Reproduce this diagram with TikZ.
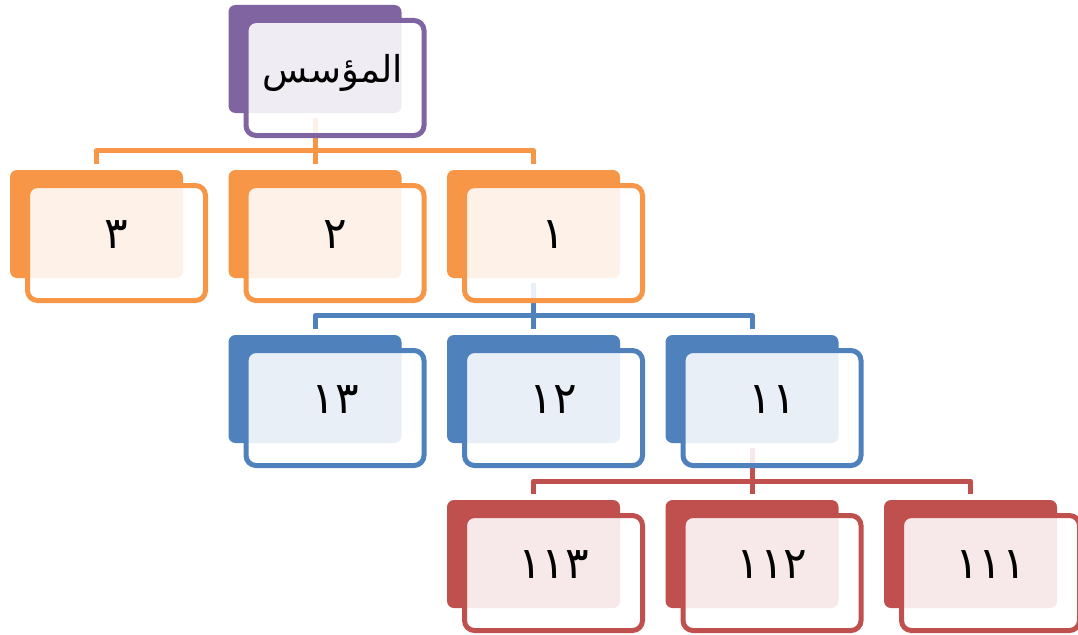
\documentclass[tikz,border=0pt]{standalone}
\usepackage{fontspec}
\newfontfamily\arabicfont[Script=Arabic]{DejaVu Sans}
\TeXXeTstate=1
\usetikzlibrary{calc}
\pgfdeclarelayer{background}
\pgfsetlayers{background,main}
\definecolor{cPurple}{HTML}{8064A2}
\definecolor{cOrange}{HTML}{F79646}
\definecolor{cBlue}{HTML}{4F81BD}
\definecolor{cRed}{HTML}{C0504D}
\tikzset{
  backbox/.style={rectangle, rounded corners=7pt, minimum width=173pt, minimum height=108pt,
    inner sep=0pt, outer sep=0pt, anchor=north west, fill=#1},
  frontbox/.style={rectangle, rounded corners=10pt, minimum width=178pt, minimum height=115pt,
    inner sep=0pt, outer sep=0pt, anchor=north west, draw=#1, line width=5pt,
    fill=white, fill opacity=0.88},
  boxtext/.style={inner sep=0pt, font=\arabicfont\fontsize{44pt}{48pt}\selectfont},
  roottext/.style={inner sep=0pt, font=\arabicfont\fontsize{37pt}{42pt}\selectfont},
  conn/.style={draw=#1, line width=5pt, line join=round},
}
\begin{document}
\begin{tikzpicture}[x=1pt,y=-1pt]
\useasboundingbox (0,0) rectangle (1078,634);

% root
\node[backbox=cPurple] (b0) at (228.5,5) {};
\node[frontbox=cPurple] (f0) at ($(b0.north west)+(17.5,15.5)$) {};
\node[roottext] (t0) at ($(f0.center)+(-2,-5)$) {\beginR المؤسس\endR};

% first level
\node[backbox=cOrange] (b3) at (10,170) {};
\node[frontbox=cOrange] (f3) at ($(b3.north west)+(17.5,15.5)$) {};
\node[boxtext] (t3) at ($(f3.center)+(0,-8)$) {٣};
\node[backbox=cOrange] (b2) at (228.5,170) {};
\node[frontbox=cOrange] (f2) at ($(b2.north west)+(17.5,15.5)$) {};
\node[boxtext] (t2) at ($(f2.center)+(0,-8)$) {٢};
\node[backbox=cOrange] (b1) at (447,170) {};
\node[frontbox=cOrange] (f1) at ($(b1.north west)+(17.5,15.5)$) {};
\node[boxtext] (t1) at ($(f1.center)+(0,-8)$) {١};

% second level
\node[backbox=cBlue] (b13) at (228.5,335) {};
\node[frontbox=cBlue] (f13) at ($(b13.north west)+(17.5,15.5)$) {};
\node[boxtext] (t13) at ($(f13.center)+(0,-8)$) {١٣};
\node[backbox=cBlue] (b12) at (447,335) {};
\node[frontbox=cBlue] (f12) at ($(b12.north west)+(17.5,15.5)$) {};
\node[boxtext] (t12) at ($(f12.center)+(0,-8)$) {١٢};
\node[backbox=cBlue] (b11) at (665.5,335) {};
\node[frontbox=cBlue] (f11) at ($(b11.north west)+(17.5,15.5)$) {};
\node[boxtext] (t11) at ($(f11.center)+(0,-8)$) {١١};

% third level
\node[backbox=cRed] (b113) at (447,500) {};
\node[frontbox=cRed] (f113) at ($(b113.north west)+(17.5,15.5)$) {};
\node[boxtext] (t113) at ($(f113.center)+(0,-8)$) {١١٣};
\node[backbox=cRed] (b112) at (665.5,500) {};
\node[frontbox=cRed] (f112) at ($(b112.north west)+(17.5,15.5)$) {};
\node[boxtext] (t112) at ($(f112.center)+(0,-8)$) {١١٢};
\node[backbox=cRed] (b111) at (884,500) {};
\node[frontbox=cRed] (f111) at ($(b111.north west)+(17.5,15.5)$) {};
\node[boxtext] (t111) at ($(f111.center)+(0,-8)$) {١١١};

% connectors, behind the boxes
\begin{pgfonlayer}{background}
  \coordinate (bar1) at (0,150.5);
  \coordinate (bar2) at (0,315.5);
  \coordinate (bar3) at (0,481);
  \coordinate (s0) at ($(b0.south)+(0,5)$);
  \coordinate (s1) at ($(b1.south)+(0,5)$);
  \coordinate (s11) at ($(b11.south)+(0,5)$);
  \foreach \c in {3,2,1} {
    \coordinate (n\c) at ($(b\c.north)+(0,-6)$);
    \draw[conn=cOrange] (s0) -- (s0 |- bar1) -| (n\c);
  }
  \foreach \c in {13,12,11} {
    \coordinate (n\c) at ($(b\c.north)+(0,-6)$);
    \draw[conn=cBlue] (s1) -- (s1 |- bar2) -| (n\c);
  }
  \foreach \c in {113,112,111} {
    \coordinate (n\c) at ($(b\c.north)+(0,-6)$);
    \draw[conn=cRed] (s11) -- (s11 |- bar3) -| (n\c);
  }
\end{pgfonlayer}
\end{tikzpicture}
\end{document}
